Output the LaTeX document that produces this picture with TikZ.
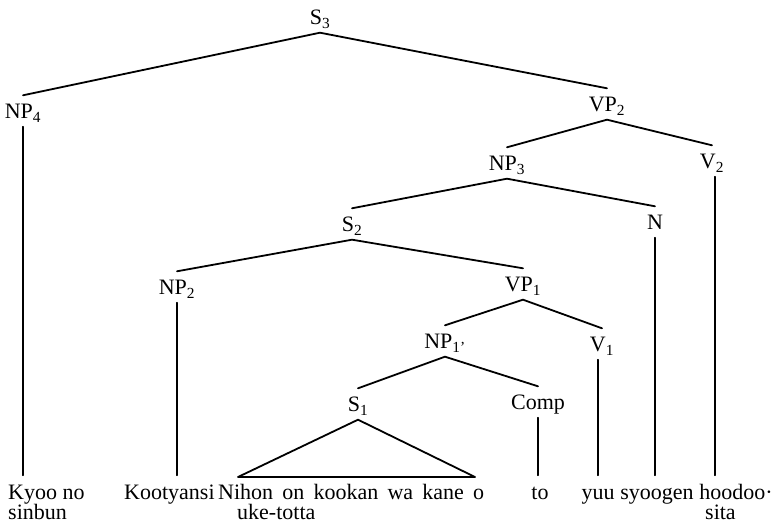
\documentclass[tikz,border=0pt]{standalone}
\usepackage{fontspec}
\setmainfont{Liberation Serif}
\begin{document}
\begin{tikzpicture}[x=1pt,y=-1pt,
  lab/.style={font=\fontsize{22}{24}\selectfont, anchor=base, inner xsep=0pt, inner ysep=1.5pt, text height=22pt, text depth=6pt},
  wordw/.style={lab, anchor=base west},
  worde/.style={lab, anchor=base east},
  branch/.style={line width=1.8pt, line cap=round}]
\useasboundingbox (0,0) rectangle (774,526);
% category labels
\node[lab] (S3) at (320,25) {S\textsubscript{3}};
\node[lab] (NP4) at (23,119) {NP\textsubscript{4}};
\node[lab] (VP2) at (607,112) {VP\textsubscript{2}};
\node[lab] (NP3) at (507,171) {NP\textsubscript{3}};
\node[lab] (V2) at (712,169) {V\textsubscript{2}};
\node[lab] (N) at (655,230) {N};
\node[lab] (S2) at (352,232) {S\textsubscript{2}};
\node[lab] (NP2) at (177,295) {NP\textsubscript{2}};
\node[lab] (VP1) at (523,292) {VP\textsubscript{1}};
\node[lab] (NP1) at (445,349) {NP\textsubscript{1'}};
\node[lab] (V1) at (602,352) {V\textsubscript{1}};
\node[lab] (S1) at (358,412) {S\textsubscript{1}};
\node[lab] (Comp) at (538,410) {Comp};
% leaves
\node[wordw] (kyoo) at (8,499) {Kyoo no};
\node[wordw] (sinbun) at (8,519) {sinbun};
\node[wordw] (koot) at (124,499) {Kootyansi};
\node[wordw] (nihon) at (218,499) {\makebox[266pt][s]{Nihon on kookan wa kane o}};
\node[wordw] (uke) at (237,519) {uke-totta};
\node[lab] (to) at (540,499) {to};
\node[lab] (yuu) at (598,499) {yuu};
\node[lab] (syoogen) at (657,499) {syoogen};
\node[worde] (hoodoo) at (773,499) {hoodoo·};
\node[wordw] (sita) at (705,519) {sita};
% branches
\draw[branch] (NP4.north) -- (S3.south) -- (VP2.north);
\draw[branch] (NP3.north) -- (VP2.south) -- (V2.north);
\draw[branch] (S2.north) -- (NP3.south) -- (N.north);
\draw[branch] (NP2.north) -- (S2.south) -- (VP1.north);
\draw[branch] (NP1.north) -- (VP1.south) -- (V1.north);
\draw[branch] (S1.north) -- (NP1.south) -- (Comp.north);
% triangle
\coordinate (tl) at (238,477);
\coordinate (tr) at (475,477);
\draw[branch, line join=round] (tl) -- (S1.south) -- (tr) -- cycle;
% leaf lines
\draw[branch] (NP4.south) -- (NP4.south |- kyoo.north);
\draw[branch] (NP2.south) -- (NP2.south |- koot.north);
\draw[branch] (Comp.south) -- (Comp.south |- to.north);
\draw[branch] (yuu.north |- V1.south) -- (yuu.north);
\draw[branch] (N.south) -- (N.south |- syoogen.north);
\draw[branch] ([xshift=3pt]V2.south) -- ([xshift=3pt]V2.south |- hoodoo.north);
\end{tikzpicture}
\end{document}
